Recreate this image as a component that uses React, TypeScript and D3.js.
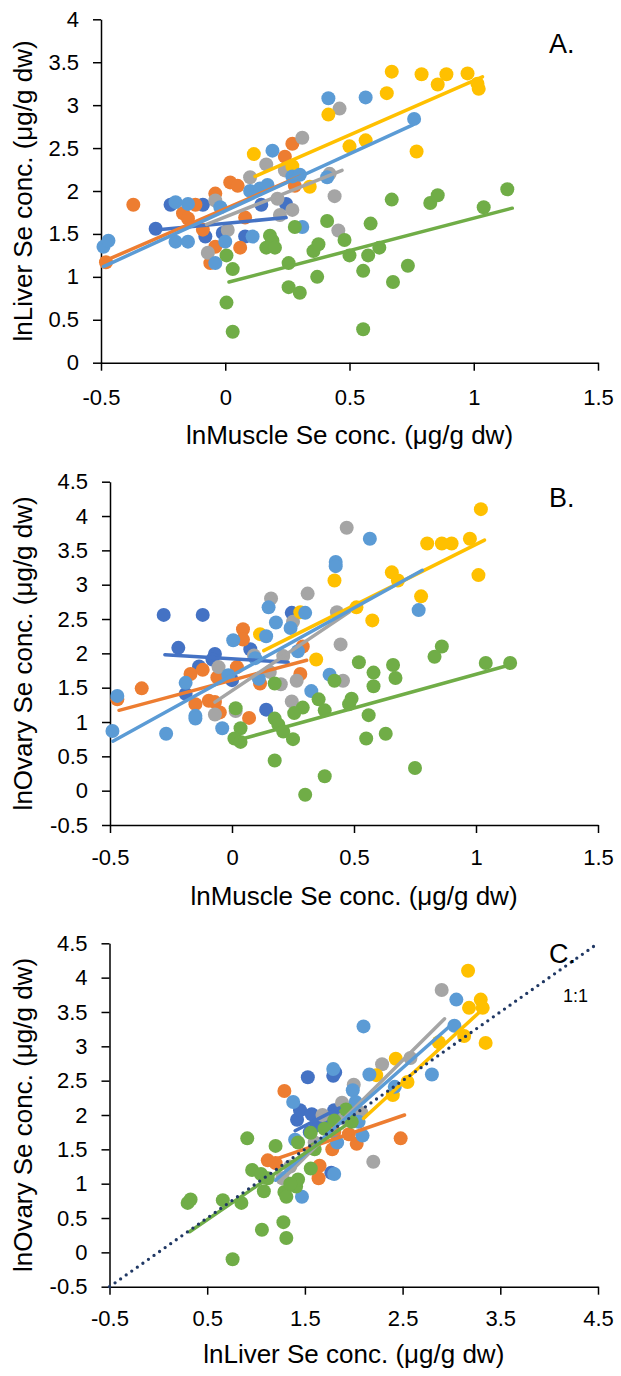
import React, { useEffect, useRef } from 'react'
import * as d3 from 'd3'

type Pt = [number, number]

// Excel default series colours, in series order
const colors = ['#4472C4', '#ED7D31', '#A5A5A5', '#FFC000', '#5B9BD5', '#70AD47']

// ---- Panel A: lnMuscle vs lnLiver ----
const aDarkBlue: Pt[] = [[-0.28, 1.56], [-0.22, 1.84], [-0.09, 1.84], [-0.08, 1.47], [-0.01, 1.51], [0.08, 1.47], [0.145, 1.84], [0.245, 1.85]]
const aOrange: Pt[] = [[-0.37, 1.84], [-0.48, 1.17], [-0.17, 1.74], [-0.15, 1.68], [-0.12, 1.84], [-0.09, 1.55], [-0.04, 1.97], [-0.04, 1.35], [-0.06, 1.16], [0.02, 2.10], [0.05, 2.06], [0.06, 1.34], [0.08, 1.69], [0.24, 2.40], [0.27, 2.55], [0.28, 2.06]]
const aGray: Pt[] = [[-0.07, 1.28], [0.01, 1.545], [-0.04, 1.89], [0.10, 2.16], [0.165, 2.31], [0.21, 1.91], [0.22, 1.72], [0.27, 1.78], [0.24, 2.24], [0.31, 2.62], [0.44, 1.94], [0.455, 1.54], [0.46, 2.96], [0.42, 2.2]]
const aYellow: Pt[] = [[0.67, 3.39], [0.79, 3.36], [0.89, 3.36], [0.975, 3.37], [0.855, 3.24], [1.015, 3.25], [1.02, 3.19], [0.65, 3.14], [0.415, 2.89], [0.50, 2.52], [0.565, 2.59], [0.77, 2.46], [0.115, 2.43], [0.27, 2.29], [0.34, 2.05]]
const aLightBlue: Pt[] = [[-0.49, 1.35], [-0.47, 1.42], [-0.2, 1.87], [-0.15, 1.85], [-0.2, 1.41], [-0.15, 1.41], [-0.02, 1.81], [0.0, 1.41], [-0.04, 1.16], [0.11, 1.47], [0.10, 2.0], [0.14, 2.03], [0.17, 2.07], [0.19, 2.47], [0.27, 2.17], [0.30, 2.19], [0.31, 1.58], [0.41, 2.16], [0.415, 3.08], [0.565, 3.09], [0.76, 2.84]]
const aGreen: Pt[] = [[0.67, 1.90], [0.825, 1.86], [0.855, 1.95], [1.135, 2.02], [1.04, 1.81], [0.41, 1.65], [0.585, 1.62], [0.28, 1.58], [0.18, 1.48], [0.19, 1.42], [0.165, 1.34], [0.20, 1.34], [0.48, 1.43], [0.355, 1.30], [0.375, 1.38], [0.62, 1.34], [0.50, 1.25], [0.575, 1.25], [0.005, 1.25], [0.03, 1.09], [0.255, 1.16], [0.37, 1.0], [0.555, 1.07], [0.735, 1.13], [0.675, 0.94], [0.255, 0.88], [0.30, 0.815], [0.005, 0.70], [0.03, 0.36], [0.555, 0.39]]
const aTrends: Pt[][] = [
  [[-0.27, 1.55], [0.245, 1.69]],
  [[-0.49, 1.18], [0.30, 2.17]],
  [[-0.075, 1.61], [0.47, 2.24]],
  [[0.12, 2.17], [1.035, 3.33]],
  [[-0.49, 1.12], [0.755, 2.77]],
  [[0.015, 0.94], [1.155, 1.80]],
]

// ---- Panel B: lnMuscle vs lnOvary ----
const bDarkBlue: Pt[] = [[-0.28, 2.56], [-0.12, 2.56], [0.245, 2.59], [-0.22, 2.08], [-0.07, 1.99], [-0.08, 1.91], [-0.135, 1.81], [-0.19, 1.41], [0.0, 1.61], [0.075, 2.06], [0.14, 1.18]]
const bOrange: Pt[] = [[-0.47, 1.33], [-0.37, 1.49], [-0.17, 1.70], [-0.12, 1.76], [-0.06, 1.65], [0.02, 1.80], [0.045, 2.35], [0.045, 2.20], [-0.15, 1.26], [-0.095, 1.31], [-0.07, 1.29], [-0.05, 1.14], [0.07, 1.06], [0.115, 1.56], [0.28, 1.70], [0.29, 2.10]]
const bGray: Pt[] = [[0.47, 3.83], [0.16, 2.80], [0.31, 2.87], [0.43, 2.60], [0.25, 2.46], [0.09, 1.97], [0.21, 1.96], [0.445, 2.13], [-0.055, 1.80], [0.155, 1.73], [0.20, 1.55], [0.265, 1.60], [0.455, 1.60], [0.245, 1.30], [-0.07, 1.11], [0.015, 1.16]]
const bYellow: Pt[] = [[1.02, 4.10], [0.80, 3.60], [0.86, 3.60], [0.90, 3.60], [0.975, 3.67], [1.01, 3.14], [0.655, 3.18], [0.68, 3.06], [0.42, 3.06], [0.775, 2.83], [0.51, 2.67], [0.575, 2.48], [0.28, 2.60], [0.115, 2.28], [0.345, 1.91]]
const bLightBlue: Pt[] = [[0.565, 3.67], [0.425, 3.33], [0.425, 3.27], [0.765, 2.63], [0.15, 2.67], [0.30, 2.59], [0.18, 2.45], [0.24, 2.37], [0.14, 2.25], [0.005, 2.19], [0.27, 2.03], [0.095, 1.93], [-0.47, 1.38], [-0.49, 0.87], [-0.27, 0.83], [-0.19, 1.57], [-0.15, 1.09], [-0.15, 1.05], [-0.04, 0.91], [-0.015, 1.68], [0.11, 1.63], [0.325, 1.45], [0.40, 1.69]]
const bGreen: Pt[] = [[0.86, 2.10], [0.83, 1.95], [1.04, 1.86], [1.14, 1.86], [0.52, 1.87], [0.66, 1.83], [0.58, 1.72], [0.58, 1.52], [0.67, 1.64], [0.42, 1.60], [0.175, 1.56], [0.355, 1.33], [0.49, 1.34], [0.48, 1.26], [0.38, 1.17], [0.29, 1.21], [0.255, 1.13], [0.015, 1.20], [0.175, 1.05], [0.19, 0.96], [0.21, 0.86], [0.035, 0.91], [0.01, 0.76], [0.035, 0.71], [0.25, 0.75], [0.56, 1.10], [0.55, 0.76], [0.63, 0.83], [0.175, 0.44], [0.38, 0.21], [0.75, 0.33], [0.30, -0.06]]
const bTrends: Pt[][] = [
  [[-0.275, 1.98], [0.23, 1.87]],
  [[-0.463, 1.17], [0.306, 1.90]],
  [[-0.07, 1.29], [0.48, 2.60]],
  [[0.13, 2.04], [1.035, 3.65]],
  [[-0.488, 0.72], [0.78, 3.21]],
  [[0.033, 0.745], [1.138, 1.83]],
]

// ---- Panel C: lnLiver vs lnOvary ----
const cDarkBlue: Pt[] = [[1.53, 2.55], [1.79, 2.57], [1.81, 2.62], [1.42, 1.93], [1.45, 2.07], [1.57, 2.01], [1.77, 1.16], [1.80, 2.07], [1.62, 1.85], [1.55, 1.75], [1.7, 1.95]]
const cOrange: Pt[] = [[1.29, 2.35], [1.12, 1.34], [1.65, 1.26], [1.64, 1.08], [1.78, 1.50], [2.03, 1.58], [2.48, 1.66], [1.80, 1.75], [1.20, 1.3], [1.95, 1.72]]
const cGray: Pt[] = [[2.9, 3.82], [2.29, 2.74], [2.58, 2.83], [2.0, 2.44], [1.88, 2.18], [2.2, 1.32], [2.08, 2.03], [1.68, 2.0], [1.27, 1.08], [1.6, 1.6], [1.9, 1.95], [1.35, 1.25]]
const cYellow: Pt[] = [[3.17, 4.10], [3.30, 3.68], [3.18, 3.56], [3.32, 3.56], [2.87, 3.06], [3.13, 3.15], [3.35, 3.05], [2.43, 2.82], [2.23, 2.58], [2.55, 2.48], [2.40, 2.29]]
const cLightBlue: Pt[] = [[3.05, 3.68], [3.03, 3.30], [2.10, 3.29], [2.80, 2.59], [2.42, 2.41], [1.79, 2.67], [2.16, 2.59], [1.99, 2.36], [2.02, 2.19], [1.38, 2.19], [1.40, 1.64], [1.47, 0.81], [1.80, 1.14], [1.83, 1.60], [2.09, 1.70], [1.95, 2.02], [2.05, 1.90]]
const cGreen: Pt[] = [[0.30, 0.72], [0.33, 0.77], [0.66, 0.76], [0.85, 0.72], [0.91, 1.66], [1.20, 1.55], [0.96, 1.20], [1.05, 1.14], [1.08, 0.89], [1.29, 0.88], [1.31, 0.81], [1.41, 0.96], [1.43, 1.06], [1.56, 1.22], [1.56, 1.74], [1.43, 1.60], [1.80, 1.92], [1.92, 2.08], [1.98, 1.90], [1.06, 0.33], [1.28, 0.44], [1.31, 0.21], [0.76, -0.10], [1.12, 1.08], [1.35, 1.0], [1.6, 1.5], [1.7, 1.8]]
const cTrends: Pt[][] = [
  [[1.40, 1.77], [1.85, 2.10]],
  [[1.08, 1.30], [2.52, 2.0]],
  [[1.3, 1.1], [2.93, 3.40]],
  [[2.1, 1.95], [3.35, 3.58]],
  [[1.2, 1.05], [3.02, 3.34]],
  [[0.32, 0.30], [1.97, 1.90]],
]
const oneToOne: Pt[] = [[-0.5, -0.5], [4.5, 4.5]]

// ticks
const muscleTicks = [-0.5, 0, 0.5, 1, 1.5]
const liverTicksA = [0, 0.5, 1, 1.5, 2, 2.5, 3, 3.5, 4]
const ovaryTicks = [-0.5, 0, 0.5, 1, 1.5, 2, 2.5, 3, 3.5, 4, 4.5]
const liverTicksC = [-0.5, 0.5, 1.5, 2.5, 3.5, 4.5]

const FONT = '"Liberation Sans", Arial, Helvetica, sans-serif'

const panels = [
  {
    letter: 'A.', left: 101, right: 598, top: 19.3, bottom: 362.7,
    xDomain: [-0.5, 1.5], yDomain: [0, 4], xTicks: muscleTicks, yTicks: liverTicksA,
    series: [aDarkBlue, aOrange, aGray, aYellow, aLightBlue, aGreen], trends: aTrends,
    xTitle: 'lnMuscle Se conc. (μg/g dw)', yTitle: 'lnLiver Se conc. (μg/g dw)',
    xTitleY: 444, letterY: 53, xPad: 19, unity: false,
  },
  {
    letter: 'B.', left: 110, right: 598, top: 481.7, bottom: 825,
    xDomain: [-0.5, 1.5], yDomain: [-0.5, 4.5], xTicks: muscleTicks, yTicks: ovaryTicks,
    series: [bDarkBlue, bOrange, bGray, bYellow, bLightBlue, bGreen], trends: bTrends,
    xTitle: 'lnMuscle Se conc. (μg/g dw)', yTitle: 'lnOvary Se conc. (μg/g dw)',
    xTitleY: 905, letterY: 507, xPad: 16, unity: false,
  },
  {
    letter: 'C.', left: 109.5, right: 598, top: 943.3, bottom: 1286.7,
    xDomain: [-0.5, 4.5], yDomain: [-0.5, 4.5], xTicks: liverTicksC, yTicks: ovaryTicks,
    series: [cDarkBlue, cOrange, cGray, cYellow, cLightBlue, cGreen], trends: cTrends,
    xTitle: 'lnLiver Se conc. (μg/g dw)', yTitle: 'lnOvary Se conc. (μg/g dw)',
    xTitleY: 1363, letterY: 963, xPad: 16, unity: true,
  },
]

const App = () => {
  const ref = useRef<SVGSVGElement>(null)

  useEffect(() => {
    const svg = d3.select(ref.current)
    svg.selectAll('*').remove()
    svg.append('rect').attr('width', 621).attr('height', 1376).attr('fill', '#fff')

    panels.forEach(p => {
      const x = d3.scaleLinear().domain(p.xDomain).range([p.left, p.right])
      const y = d3.scaleLinear().domain(p.yDomain).range([p.bottom, p.top])
      const g = svg.append('g')
      const fmt = (d: d3.NumberValue) => String(d)

      // axes
      const xa = g.append('g')
        .attr('transform', `translate(0,${p.bottom})`)
        .call(d3.axisBottom(x).tickValues(p.xTicks).tickFormat(fmt).tickSize(8).tickPadding(p.xPad).tickSizeOuter(0))
      const ya = g.append('g')
        .attr('transform', `translate(${p.left},0)`)
        .call(d3.axisLeft(y).tickValues(p.yTicks).tickFormat(fmt).tickSize(8).tickPadding(14).tickSizeOuter(0))
      ;[xa, ya].forEach(a => {
        a.attr('font-family', FONT).attr('font-size', 22)
        a.select('.domain').attr('stroke', '#000').attr('stroke-width', 1.5)
        a.selectAll('.tick line').attr('stroke', '#000').attr('stroke-width', 1.5)
        a.selectAll('.tick text').attr('fill', '#000')
      })

      // markers
      p.series.forEach((s, i) => {
        g.append('g').selectAll('circle').data(s).join('circle')
          .attr('cx', d => x(d[0]))
          .attr('cy', d => y(d[1]))
          .attr('r', 7)
          .attr('fill', colors[i])
      })

      // trend lines
      const line = d3.line<Pt>().x(d => x(d[0])).y(d => y(d[1]))
      p.trends.forEach((t, i) => {
        g.append('path').attr('d', line(t))
          .attr('fill', 'none').attr('stroke', colors[i]).attr('stroke-width', 3.5)
          .attr('stroke-linecap', 'round')
      })

      if (p.unity) {
        g.append('path').attr('d', line(oneToOne))
          .attr('fill', 'none').attr('stroke', '#203864').attr('stroke-width', 3.3)
          .attr('stroke-linecap', 'round').attr('stroke-dasharray', '0 6.8')
        g.append('text').attr('x', 563).attr('y', 1002)
          .attr('font-family', FONT).attr('font-size', 18).text('1:1')
      }

      // titles
      g.append('text')
        .attr('x', (p.left + p.right) / 2).attr('y', p.xTitleY)
        .attr('text-anchor', 'middle').attr('font-family', FONT).attr('font-size', 26)
        .text(p.xTitle)
      g.append('text')
        .attr('transform', `translate(32,${(p.top + p.bottom) / 2}) rotate(-90)`)
        .attr('text-anchor', 'middle').attr('font-family', FONT).attr('font-size', 26)
        .text(p.yTitle)
      g.append('text').attr('x', 549).attr('y', p.letterY)
        .attr('font-family', FONT).attr('font-size', 27).text(p.letter)
    })
  }, [])

  return (
    <svg ref={ref} width={621} height={1376} style={{ position: 'absolute', left: 0, top: 0 }} />
  )
}

export default App
